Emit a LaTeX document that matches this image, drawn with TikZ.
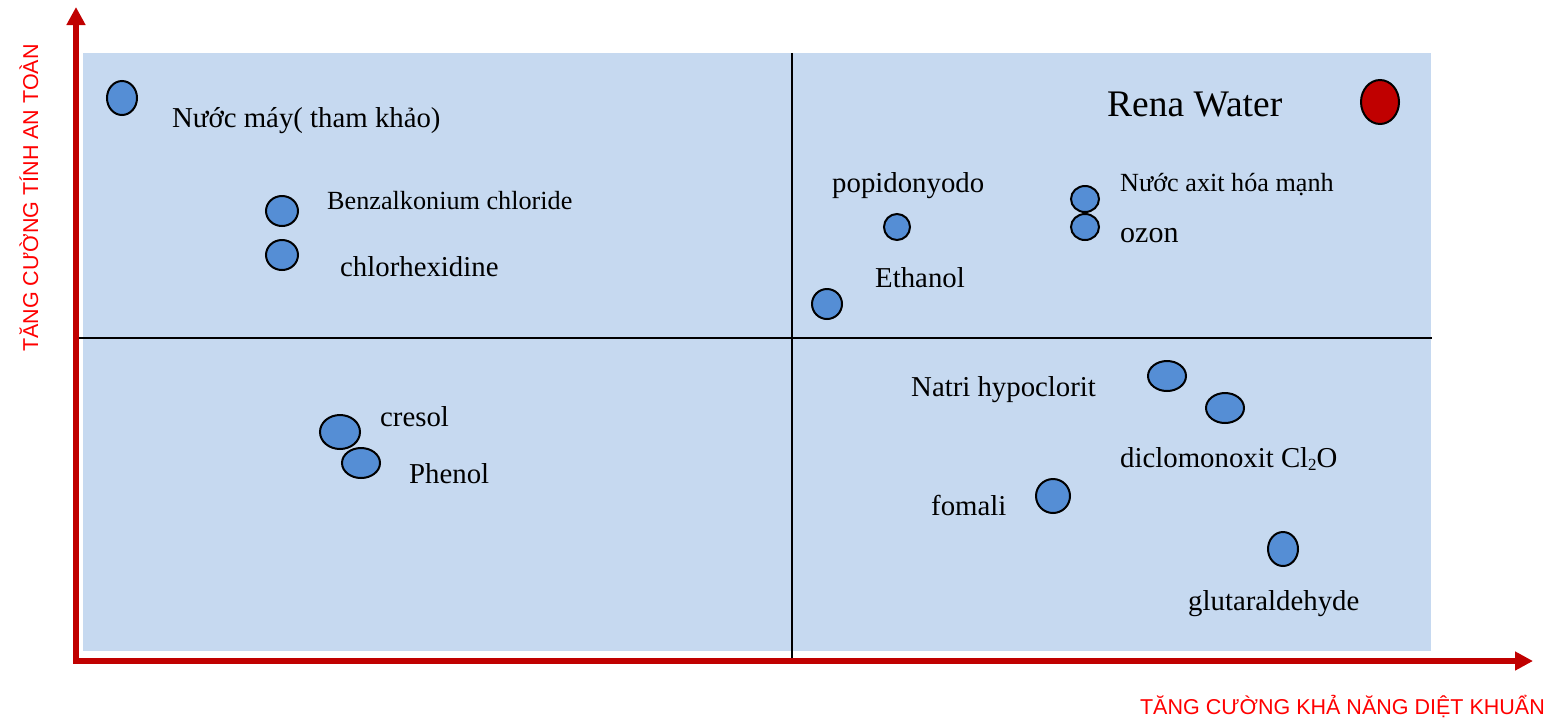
\documentclass[tikz,border=0pt]{standalone}
\usepackage{fontspec}
\setmainfont{Liberation Serif}
\newfontfamily\axisfont{Liberation Sans}
\usetikzlibrary{arrows.meta,shapes.geometric}
\definecolor{bgblue}{RGB}{198,217,240}
\definecolor{dotblue}{RGB}{85,142,213}
\definecolor{axisred}{RGB}{192,0,0}
\definecolor{labelred}{RGB}{255,0,0}
\tikzset{
  axis/.style={draw=axisred,line width=6pt,{Triangle[length=18pt,width=18pt]}-{Triangle[length=18pt,width=18pt]}},
  quad/.style={draw=black,line width=1.5pt},
  dot/.style={shape=ellipse,draw=black,line width=2pt,fill=dotblue,inner sep=0pt},
  lbl/.style={anchor=base west,inner sep=0pt,font=\fontsize{28.8}{30}\selectfont},
  slbl/.style={anchor=base west,inner sep=0pt,font=\fontsize{26.2}{28}\selectfont},
  axlbl/.style={inner sep=0pt,text=labelred,font=\axisfont\fontsize{21.5}{24}\selectfont},
}
\begin{document}
\begin{tikzpicture}[x=1pt,y=-1pt]
\useasboundingbox (0,0) rectangle (1552,721);
\fill[bgblue] (83,53) rectangle (1431,651);
% quadrant lines
\coordinate (qt) at (792,53);
\coordinate (qb) at (792,661);
\coordinate (ql) at (76,338);
\coordinate (qr) at (1432,338);
\draw[quad] (qt) -- (qb);
\draw[quad] (ql) -- (qr);
% axes
\coordinate (O) at (76,661);
\coordinate (Ytop) at (76,7);
\coordinate (Xend) at (1533,661);
\draw[axis] (Ytop) -- (O) -- (Xend);
\node[axlbl,anchor=base east] (xl) at (1545,714) {TĂNG CƯỜNG KHẢ NĂNG DIỆT KHUẨN};
\node[axlbl,anchor=base,rotate=90] (yl) at (38,198) {TĂNG CƯỜNG TÍNH AN TOÀN};
% dots
\node[dot,minimum width=30pt,minimum height=34pt] (d1) at (122,98) {};
\node[dot,minimum width=32pt,minimum height=30pt] (d2) at (282,211) {};
\node[dot,minimum width=32pt,minimum height=30pt] (d3) at (282,255) {};
\node[dot,minimum width=40pt,minimum height=34pt] (d4) at (340,432) {};
\node[dot,minimum width=38pt,minimum height=30pt] (d5) at (361,463) {};
\node[dot,minimum width=26pt,minimum height=26pt] (d6) at (897,227) {};
\node[dot,minimum width=30pt,minimum height=30pt] (d7) at (827,304) {};
\node[dot,minimum width=28pt,minimum height=26pt] (d8) at (1085,199) {};
\node[dot,minimum width=28pt,minimum height=26pt] (d9) at (1085,227) {};
\node[dot,fill=axisred,minimum width=38pt,minimum height=44pt] (d10) at (1380,102) {};
\node[dot,minimum width=38pt,minimum height=30pt] (d11) at (1167,376) {};
\node[dot,minimum width=38pt,minimum height=30pt] (d12) at (1225,408) {};
\node[dot,minimum width=34pt,minimum height=34pt] (d13) at (1053,496) {};
\node[dot,minimum width=30pt,minimum height=34pt] (d14) at (1283,549) {};
% labels
\node[lbl] (t1) at (172,127) {Nước máy( tham khảo)};
\node[slbl] (t2) at (327,209) {Benzalkonium chloride};
\node[lbl] (t3) at (340,276) {chlorhexidine};
\node[lbl] (t4) at (380,426) {cresol};
\node[lbl] (t5) at (409,483) {Phenol};
\node[lbl] (t6) at (832,192) {popidonyodo};
\node[lbl] (t7) at (875,287) {Ethanol};
\node[slbl] (t8) at (1120,191) {Nước axit hóa mạnh};
\node[lbl,font=\fontsize{30}{32}\selectfont] (t9) at (1120,242) {ozon};
\node[lbl,font=\fontsize{37.5}{40}\selectfont] (t10) at (1107,116) {Rena Water};
\node[lbl] (t11) at (911,396) {Natri hypoclorit};
\node[lbl] (t12) at (1120,467) {diclomonoxit Cl\raisebox{-0.28ex}{\fontsize{17}{17}\selectfont 2}O};
\node[lbl] (t13) at (931,515) {fomali};
\node[lbl] (t14) at (1188,610) {glutaraldehyde};
\end{tikzpicture}
\end{document}
